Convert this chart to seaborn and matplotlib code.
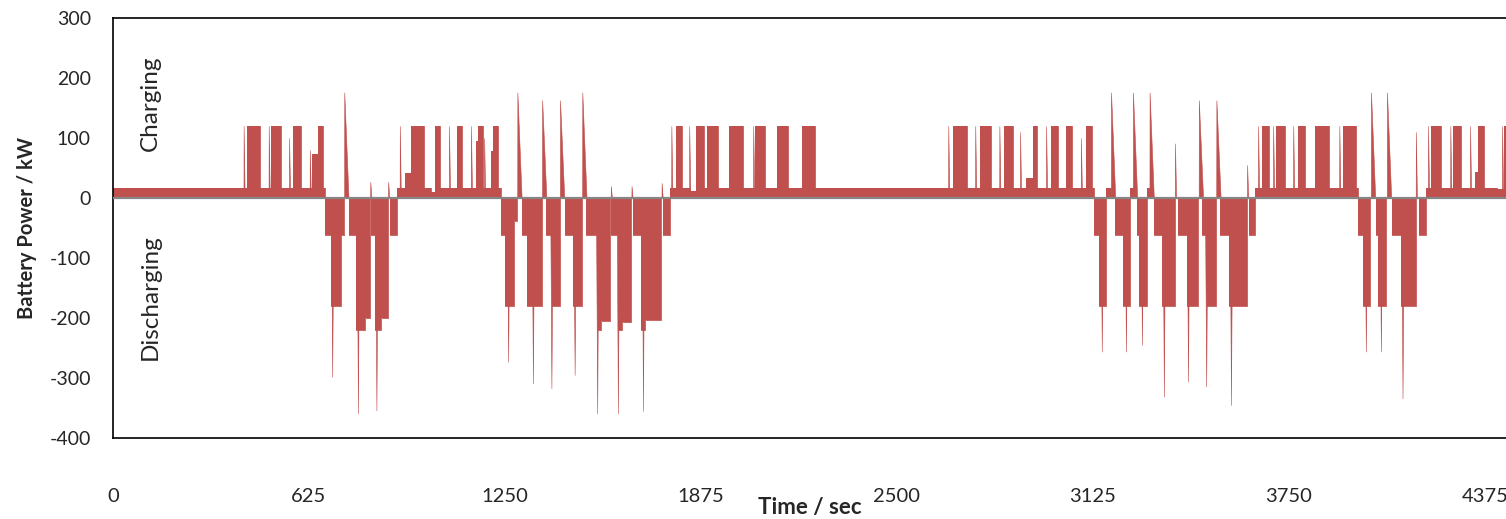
import numpy as np
import pandas as pd
import matplotlib
matplotlib.use("Agg")
import matplotlib.pyplot as plt
import seaborn as sns

# Battery power profile, read off the chart as step changes:
# time (s) at which the power switches to a new level (kW)
step_time = [0, 427, 468, 505, 535, 574, 600, 635, 655, 670,
             677, 694, 728, 737, 752, 776, 803, 819, 824, 836, 856, 877, 882,
             907, 930, 949, 992, 1014, 1028, 1044, 1098, 1114, 1159, 1164, 1180, 1205, 1212, 1228,
             1236, 1251, 1279, 1289, 1305, 1320, 1368, 1382, 1400, 1425, 1440, 1467, 1496,
             1509, 1547, 1557, 1584, 1588, 1610, 1623, 1651, 1658, 1685, 1697, 1749, 1754,
             1775, 1795, 1815, 1840, 1859, 1885, 1894, 1929, 1964, 2009, 2047, 2079, 2116, 2153, 2196, 2239,
             2680, 2722, 2765, 2799, 2841, 2869, 2912, 2933, 2948, 2990, 3015, 3039, 3059, 3102, 3121,
             3128, 3145, 3167, 3183, 3195, 3222, 3243, 3258, 3266, 3273, 3297, 3310,
             3319, 3345, 3386, 3395, 3425, 3459, 3473, 3489, 3517, 3531, 3558, 3616, 3622,
             3643, 3664, 3687, 3707, 3737, 3778, 3802, 3832, 3878, 3923, 3963,
             3970, 3987, 4009, 4027, 4034, 4059, 4078, 4108, 4154, 4165,
             4186, 4202, 4234, 4274, 4298, 4342, 4353, 4372, 4413, 4436]
step_power = [17, 120, 17, 120, 17, 120, 17, 73, 120, 17,
              -62, -180, -62, 0, -62, -220, -200, 0, -62, -220, -200, 0, -62,
              17, 42, 120, 17, 10, 120, 17, 120, 17, 95, 120, 17, 78, 120, 17,
              -62, -180, -38, 0, -62, -180, 0, -62, -180, 0, -62, -180, 0,
              -62, -220, -205, 0, -62, -220, -206, 0, -62, -220, -204, 0, -62,
              17, 120, 17, 12, 120, 17, 120, 17, 120, 17, 120, 17, 120, 17, 120, 17,
              120, 17, 120, 17, 120, 17, 33, 120, 17, 120, 17, 120, 17, 120, 17,
              -62, -180, 17, 0, -62, -180, 17, 0, -62, -180, 17, 0,
              -62, -180, 0, -62, -180, 0, -62, -180, 0, -62, -180, 0, -62,
              17, 120, 17, 120, 17, 120, 17, 120, 17, 120, 17,
              -62, -180, 0, -62, -180, 0, -62, -180, 0, -62,
              17, 120, 17, 120, 17, 43, 120, 17, 15, 120]
end_time = 4442

# short charging peaks (s, kW)
charge_peak_time = [416, 496, 561, 627, 737, 820, 877, 914, 1071, 1141, 1183, 1289, 1368, 1425, 1496,
                    1587, 1653, 1749, 1780, 1837, 2041, 2663, 2749, 2826, 2892, 2975, 3086,
                    3182, 3252, 3305, 3386, 3462, 3518, 3616, 3651, 3699, 3763, 3910,
                    4011, 4062, 4154, 4193, 4264, 4327, 4429]
charge_peak_power = [120, 120, 100, 80, 176, 27, 27, 120, 120, 120, 100, 176, 163, 163, 176,
                     20, 20, 25, 120, 120, 120, 120, 120, 120, 110, 120, 100,
                     176, 176, 176, 91, 163, 163, 55, 120, 120, 120, 120,
                     176, 176, 110, 120, 120, 120, 120]

# short discharging peaks (s, kW)
discharge_peak_time = [699, 781, 840, 1260, 1339, 1398, 1472, 1544, 1610, 1690,
                       3153, 3230, 3281, 3351, 3428, 3486, 3565, 3995, 4043, 4112]
discharge_peak_power = [-298, -359, -354, -273, -309, -317, -295, -359, -359, -355,
                        -256, -256, -245, -331, -306, -314, -345, -256, -256, -334]

x_ticks = [0, 625, 1250, 1875, 2500, 3125, 3750, 4375]

assert len(step_time) == len(step_power)

df = pd.DataFrame({"time": step_time + [end_time],
                   "power": step_power + [step_power[-1]]})

red = "#C0504D"

sns.set_theme(style="white")
plt.rcParams['font.family'] = ['Lato', 'DejaVu Sans']
plt.rcParams['axes.unicode_minus'] = False

fig = plt.figure(figsize=(15.06, 5.19), dpi=100)
ax = fig.add_axes([113 / 1506, 1 - 438 / 519, 1 - 113 / 1506, 420 / 519])

# stepped area
ax.fill_between(df["time"], 0, df["power"], step="post", color=red, lw=0)
sns.lineplot(data=df, x="time", y="power", drawstyle="steps-post", color=red,
             lw=0.6, estimator=None, sort=False, ax=ax)

# peaks
for t, p in zip(charge_peak_time, charge_peak_power):
    w = 14 if p > 150 else 4
    ax.fill_between([t, t + 0.5, t + w], 0, [0, p, 0], color=red, lw=0.4, edgecolor=red)
for t, p in zip(discharge_peak_time, discharge_peak_power):
    ax.fill_between([t - 4, t, t + 4], 0, [0, p, 0], color=red, lw=0.4, edgecolor=red)

ax.axhline(0, color="#868686", lw=1.6, zorder=4)

ax.set_xlim(0, end_time)
ax.set_ylim(-400, 300)
ax.set_yticks(range(-400, 301, 100))
ax.set_xticks(x_ticks)
ax.set_xticklabels([str(v) for v in x_ticks])

ax.tick_params(axis="y", direction="in", length=7, width=1, color="black",
               labelsize=14, pad=16, labelcolor="#262626")
ax.tick_params(axis="x", length=0, labelsize=14.5, pad=36, labelcolor="#262626")

for side in ["left", "bottom", "top"]:
    ax.spines[side].set_color("black")
    ax.spines[side].set_linewidth(1.2)
ax.spines["right"].set_visible(False)

ax.set_xlabel("Time / sec", fontsize=16, fontweight="bold", labelpad=-6)
ax.set_ylabel("Battery Power / kW", fontsize=14.5, fontweight="bold", labelpad=9)

ax.text(120, 158, "Charging", rotation=90, fontsize=17.5, ha="center", va="center")
ax.text(120, -165, "Discharging", rotation=90, fontsize=17.5, ha="center", va="center")

fig.savefig("out.png", dpi=100)
